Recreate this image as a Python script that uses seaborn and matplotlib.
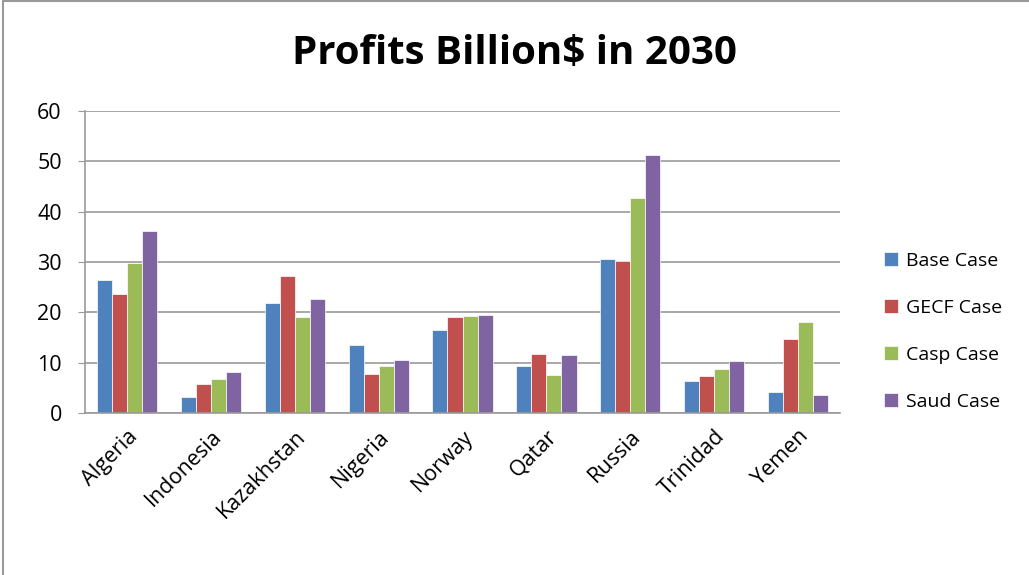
import pandas as pd
import seaborn as sns
import matplotlib.pyplot as plt
from matplotlib.patches import Rectangle

countries = ['Algeria', 'Indonesia', 'Kazakhstan', 'Nigeria', 'Norway',
             'Qatar', 'Russia', 'Trinidad', 'Yemen']
base_case = [26.5, 3.2, 21.9, 13.4, 16.5, 9.3, 30.5, 6.3, 4.2]
gecf_case = [23.7, 5.8, 27.2, 7.8, 19.0, 11.7, 30.2, 7.4, 14.7]
casp_case = [29.8, 6.8, 19.0, 9.3, 19.3, 7.6, 42.8, 8.8, 18.0]
saud_case = [36.1, 8.1, 22.7, 10.6, 19.5, 11.4, 51.2, 10.3, 3.5]
cases = ['Base Case', 'GECF Case', 'Casp Case', 'Saud Case']
colors = ['#4F81BD', '#C0504D', '#9BBB59', '#8064A2']

rows = []
for case, vals in zip(cases, [base_case, gecf_case, casp_case, saud_case]):
    for c, v in zip(countries, vals):
        rows.append({'country': c, 'case': case, 'profit': v})
df = pd.DataFrame(rows)

sns.set_style('white')
plt.rcParams['font.family'] = ['Open Sans', 'DejaVu Sans']

fig = plt.figure(figsize=(10.29, 5.75), dpi=100)
ax = fig.add_axes([0.083, 0.282, 0.733, 0.525])

sns.barplot(data=df, x='country', y='profit', hue='case', palette=colors,
            width=0.72, gap=0, saturation=1, edgecolor='white', linewidth=0.5,
            ax=ax)

ax.set_ylim(0, 60)
ax.set_yticks(range(0, 61, 10))
ax.yaxis.grid(True, color='#999999', linewidth=1.2)
ax.set_axisbelow(True)
ax.set_xlabel('')
ax.set_ylabel('')
for side in ['top', 'right']:
    ax.spines[side].set_visible(False)
for side in ['left', 'bottom']:
    ax.spines[side].set_color('#999999')
    ax.spines[side].set_linewidth(1.2)
ax.tick_params(axis='y', left=True, length=5, color='#999999', labelsize=15.5,
               labelcolor='black', pad=12)
ax.tick_params(axis='x', bottom=False, labelsize=15.5, labelcolor='black', pad=6)
plt.setp(ax.get_xticklabels(), rotation=45, ha='right', rotation_mode='anchor')

ax.legend(loc='center left', bbox_to_anchor=(1.035, 0.27), frameon=False,
          fontsize=14, handlelength=0.75, handleheight=0.75, handletextpad=0.4,
          labelspacing=1.5, labelcolor='black')

fig.suptitle('Profits Billion$ in 2030', fontsize=29, fontweight='bold',
             color='black', x=0.5, y=0.94)

fig.patches.append(Rectangle((0.003, -0.1), 1.2, 1.098, transform=fig.transFigure,
                             fill=False, edgecolor='#999999', linewidth=1.5))

fig.savefig('out.png', dpi=100)
